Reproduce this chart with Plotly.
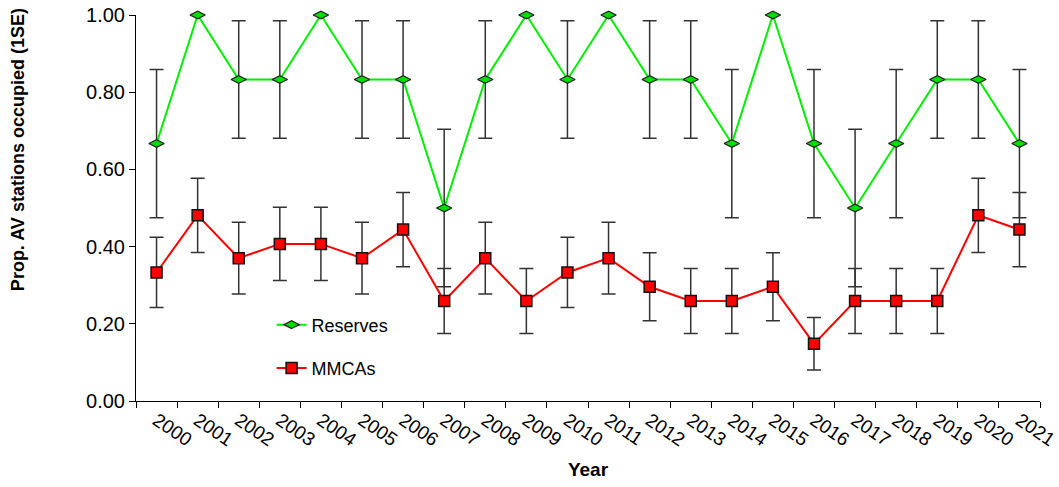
import plotly.graph_objects as go

years = [str(y) for y in range(2000, 2022)]

reserves = [0.667, 1.0, 0.833, 0.833, 1.0, 0.833, 0.833, 0.5, 0.833, 1.0, 0.833,
            1.0, 0.833, 0.833, 0.667, 1.0, 0.667, 0.5, 0.667, 0.833, 0.833, 0.667]
reserves_se = [0.192, None, 0.152, 0.152, None, 0.152, 0.152, 0.204, 0.152, None, 0.152,
               None, 0.152, 0.152, 0.192, None, 0.192, 0.204, 0.192, 0.152, 0.152, 0.192]

mmcas = [0.333, 0.481, 0.370, 0.407, 0.407, 0.370, 0.444, 0.259, 0.370, 0.259, 0.333,
         0.370, 0.296, 0.259, 0.259, 0.296, 0.148, 0.259, 0.259, 0.259, 0.481, 0.444]
mmcas_se = [0.091, 0.096, 0.093, 0.095, 0.095, 0.093, 0.096, 0.084, 0.093, 0.084, 0.091,
            0.093, 0.088, 0.084, 0.084, 0.088, 0.068, 0.084, 0.084, 0.084, 0.096, 0.096]

err_style = dict(type="data", visible=True, color="#333333", thickness=1.5, width=7)

fig = go.Figure()
fig.add_trace(go.Scatter(
    x=years, y=reserves, name="Reserves", mode="lines+markers", legendgroup="r",
    cliponaxis=False,
    line=dict(color="#00ee00", width=2),
    marker=dict(symbol="diamond-wide", size=11, color="#00dd00", line=dict(color="#222222", width=1.2)),
    error_y=dict(array=reserves_se, **err_style),
))
fig.add_trace(go.Scatter(
    x=years, y=mmcas, name="MMCAs", mode="lines+markers", legendgroup="m",
    cliponaxis=False,
    line=dict(color="#ff0000", width=2),
    marker=dict(symbol="square", size=11, color="#ff0000", line=dict(color="#111111", width=1.5)),
    error_y=dict(array=mmcas_se, **err_style),
))

fig.update_layout(
    width=1059, height=487,
    margin=dict(l=136, r=19, t=15, b=86),
    plot_bgcolor="white", paper_bgcolor="white",
    font=dict(family="Liberation Sans, Arial, sans-serif", color="black"),
    legend=dict(x=0.15, y=0.245, xanchor="left", yanchor="top",
                font=dict(size=18), bgcolor="rgba(0,0,0,0)",
                traceorder="grouped", tracegroupgap=17),
    xaxis=dict(
        type="category", range=[-0.5, 21.5], automargin=False,
        showline=True, linecolor="black", linewidth=1,
        ticks="outside", tickson="boundaries", ticklen=6, tickcolor="black",
        tickangle=34, tickfont=dict(size=19), showgrid=False,
        title=dict(text="<b>Year</b>", font=dict(size=19), standoff=13),
    ),
    yaxis=dict(
        range=[0, 1], dtick=0.2, tickformat=".2f", automargin=False,
        showline=True, linecolor="black", linewidth=1,
        ticks="outside", ticklen=6, tickcolor="black",
        tickfont=dict(size=20), showgrid=False, zeroline=False,
    ),
    annotations=[dict(
        text="<b>Prop. AV stations occupied (1SE)</b>", textangle=-90,
        xref="paper", yref="paper", x=-0.1305, y=0.65,
        xanchor="center", yanchor="middle", showarrow=False,
        font=dict(size=18),
    )],
)

# drop the default 8px page margin so the figure fills the window
fig.write_html("out.html", config={"displayModeBar": False},
               post_script="document.body.style.margin = '0';")
